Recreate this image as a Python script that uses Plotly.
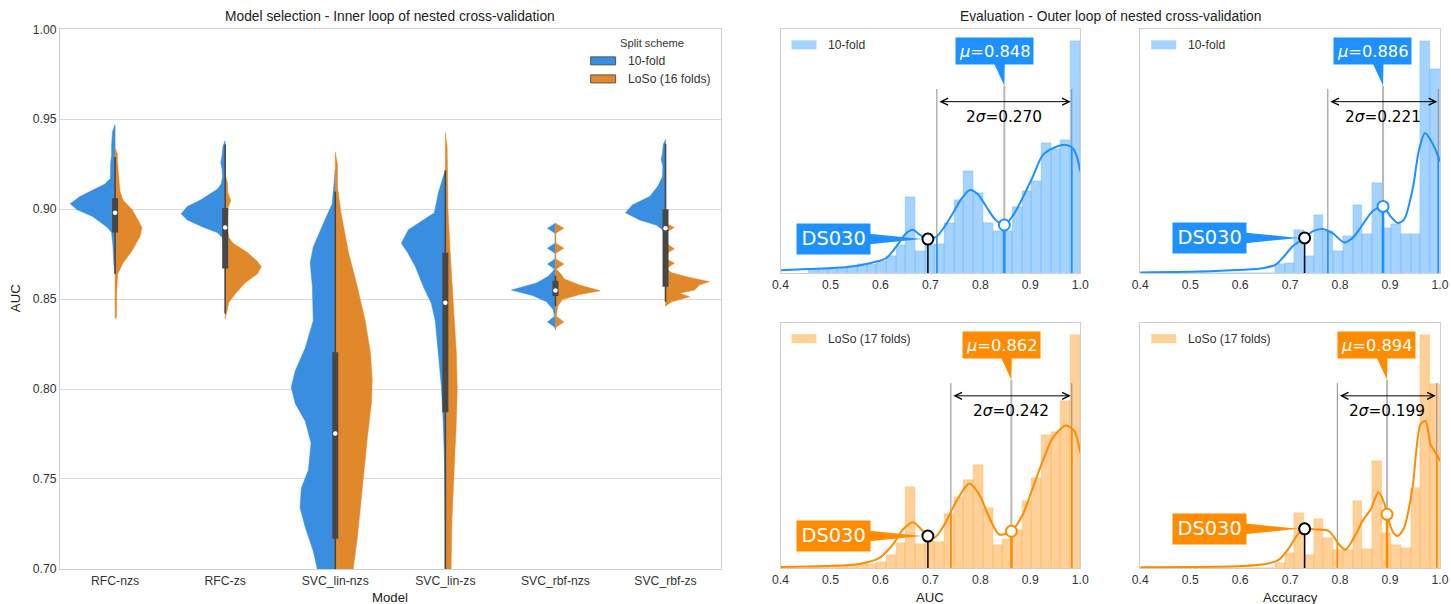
import numpy as np
import plotly.graph_objects as go

# The snapshot shows the page (8px default body margin around the figure) resized
# from 1467x620 down to 1451x604. Positions below are written in snapshot pixels and
# converted to figure coordinates with these factors.
SNAP_W, SNAP_H = 1451, 604
BODY_MARGIN = 8
SX, SY = SNAP_W / (SNAP_W + 2 * BODY_MARGIN), SNAP_H / (SNAP_H + 2 * BODY_MARGIN)
FIG_W, FIG_H = SNAP_W + BODY_MARGIN, SNAP_H + BODY_MARGIN
K = 1 / ((SX + SY) / 2)          # pixel-size compensation for fonts/offsets

# ------------------------------------------------------------------
# Inner loop (model selection): split violins of AUC for each model
# ------------------------------------------------------------------
MODELS = ["RFC-nzs", "RFC-zs", "SVC_lin-nzs", "SVC_lin-zs", "SVC_rbf-nzs", "SVC_rbf-zs"]

# density profiles (AUC level, relative density) - 10-fold split
rfc_nzs_10_auc = [0.947, 0.943, 0.935, 0.930, 0.926, 0.921, 0.917, 0.914, 0.911, 0.907, 0.903, 0.8996, 0.896, 0.890, 0.887, 0.880, 0.870, 0.864]
rfc_nzs_10_den = [0, .06, .08, .08, .10, .10, .11, .23, .48, .80, 1.02, .86, .52, .18, .08, .05, .03, 0]
rfc_zs_10_auc = [0.938, 0.935, 0.930, 0.926, 0.922, 0.918, 0.914, 0.911, 0.905, 0.9015, 0.8974, 0.894, 0.890, 0.887, 0.884, 0.876, 0.870]
rfc_zs_10_den = [0, .05, .07, .10, .07, .06, .09, .18, .57, .86, 1.0, .86, .50, .18, .06, .03, 0]
lin_nzs_10_auc = [0.922, 0.912, 0.903, 0.892, 0.879, 0.870, 0.857, 0.838, 0.823, 0.810, 0.801, 0.792, 0.782, 0.770, 0.755, 0.745, 0.734, 0.723, 0.710, 0.700, 0.690, 0.680, 0.665]
lin_nzs_10_den = [0, .03, .07, .27, .50, .57, .52, .50, .68, .91, 1.0, .91, .68, .55, .61, .77, .80, .68, .50, .41, .32, .23, 0]
lin_zs_10_auc = [0.922, 0.916, 0.909, 0.898, 0.894, 0.8885, 0.881, 0.876, 0.868, 0.857, 0.8477, 0.838, 0.820, 0.801, 0.782, 0.760, 0.727]
lin_zs_10_den = [0, .07, .16, .25, .50, .84, 1.0, .86, .68, .50, .32, .23, .16, .09, .05, .02, 0]
rbf_nzs_10_auc = [0.8922, 0.8894, 0.8866, 0.8811, 0.8783, 0.8755, 0.8723, 0.8695, 0.8667, 0.8645, 0.8624, 0.859, 0.855, 0.852, 0.8485, 0.844, 0.8405, 0.8373, 0.8345, 0.833]
rbf_nzs_10_den = [0, .18, .01, .01, .18, .01, .01, .18, .02, .09, .18, .43, 1.0, .52, .20, .05, .02, .18, .02, 0]
rbf_zs_10_auc = [0.9387, 0.936, 0.931, 0.9275, 0.924, 0.918, 0.9126, 0.907, 0.9024, 0.898, 0.894, 0.891, 0.8885, 0.886]
rbf_zs_10_den = [0, .05, .07, .10, .06, .07, .18, .36, .75, .91, .59, .20, .07, 0]

# density profiles - leave-one-site-out split
rfc_nzs_lo_auc = [0.934, 0.931, 0.925, 0.917, 0.910, 0.905, 0.8996, 0.894, 0.8896, 0.885, 0.877, 0.870, 0.864, 0.855, 0.845, 0.840, 0.839]
rfc_nzs_lo_den = [0, .05, .06, .08, .11, .18, .39, .52, .61, .57, .39, .18, .06, .04, .03, .03, 0]
rfc_zs_lo_auc = [0.919, 0.915, 0.909, 0.905, 0.901, 0.895, 0.888, 0.884, 0.881, 0.876, 0.871, 0.868, 0.864, 0.859, 0.853, 0.848, 0.842, 0.839]
rfc_zs_lo_den = [0, .05, .06, .13, .07, .05, .05, .09, .18, .50, .73, .82, .73, .45, .23, .08, .03, 0]
lin_nzs_lo_auc = [0.9316, 0.925, 0.9125, 0.898, 0.876, 0.857, 0.838, 0.820, 0.805, 0.792, 0.773, 0.755, 0.736, 0.717, 0.7005, 0.685, 0.665]
lin_nzs_lo_den = [0, .05, .05, .13, .30, .50, .68, .80, .84, .82, .73, .66, .57, .50, .41, .32, 0]
lin_zs_lo_auc = [0.9426, 0.935, 0.920, 0.900, 0.876, 0.848, 0.820, 0.800, 0.782, 0.755, 0.727, 0.7005, 0.685, 0.665]
lin_zs_lo_den = [0, .04, .05, .06, .11, .18, .25, .27, .25, .20, .15, .13, .11, 0]
rbf_nzs_lo_auc = [0.8922, 0.8894, 0.8866, 0.8811, 0.8783, 0.8755, 0.8723, 0.8695, 0.8667, 0.8635, 0.8612, 0.8578, 0.8546, 0.8525, 0.8497, 0.846, 0.8405, 0.8373, 0.8345, 0.833]
rbf_nzs_lo_den = [0, .19, .01, .01, .19, .01, .01, .19, .02, .14, .20, .55, 1.02, .55, .16, .05, .02, .19, .02, 0]
rbf_zs_lo_auc = [0.8922, 0.8898, 0.8870, 0.8810, 0.878, 0.875, 0.8725, 0.8699, 0.8670, 0.8647, 0.862, 0.8597, 0.8578, 0.855, 0.8532, 0.8513, 0.8485, 0.846]
rbf_zs_lo_den = [0, .20, .01, .01, .20, .01, .01, .20, .02, .14, .55, 1.0, .77, .66, .32, .55, .14, 0]

# inner box (both splits pooled)
whisk_lo = [0.864, 0.842, 0.600, 0.600, 0.846, 0.8485]
box_q1 = [0.887, 0.867, 0.7167, 0.7871, 0.8517, 0.8568]
box_med = [0.898, 0.8898, 0.7752, 0.8479, 0.8548, 0.8894]
box_q3 = [0.906, 0.9007, 0.8204, 0.8758, 0.8602, 0.900]
whisk_hi = [0.929, 0.936, 0.9098, 0.9215, 0.863, 0.9364]

# ------------------------------------------------------------------
# Outer loop (evaluation): histograms (density) + KDE
# ------------------------------------------------------------------
BIN_CENTERS = [0.4665, 0.4859, 0.5053, 0.5247, 0.5441, 0.5635, 0.5829, 0.6023, 0.6217, 0.6411,
               0.6605, 0.6799, 0.6993, 0.7187, 0.7381, 0.7575, 0.7769, 0.7963, 0.8157, 0.8351,
               0.8545, 0.8739, 0.8933, 0.9127, 0.9321, 0.9515, 0.9709, 0.9903]

auc_10_hist = [0.13, 0.13, 0.13, 0.17, 0.24, 0.28, 0.28, 0.39, 0.56, 0.91, 2.52, 0.72, 0.94, 0.97,
               1.67, 2.41, 3.38, 2.67, 1.67, 1.39, 1.39, 2.19, 2.72, 3.06, 4.31, 4.13, 4.41, 7.74]
acc_10_hist = [0, 0, 0, 0, 0, 0, 0, 0, 0, 0, 0, 0.28, 0.33, 1.41,
               0.56, 1.91, 1.39, 0.72, 1.24, 2.26, 1.28, 2.98, 1.48, 1.61, 1.28, 1.28, 7.74, 6.81]
auc_lo_hist = [0.06, 0.06, 0.06, 0.06, 0.09, 0.11, 0.13, 0.20, 0.44, 0.83, 2.69, 0.78, 0.89, 0.87,
               1.78, 2.36, 2.91, 3.42, 2.00, 0.76, 0.97, 1.26, 2.22, 3.00, 4.42, 4.52, 5.56, 7.76]
acc_lo_hist = [0, 0, 0, 0, 0, 0, 0, 0, 0, 0, 0, 0.17, 0.50, 1.83,
               0.44, 1.63, 1.00, 0.58, 0.58, 2.22, 0.63, 3.56, 1.17, 0.76, 0.67, 2.67, 7.76, 6.11]

auc_10_kde_x = [0.400, 0.455, 0.534, 0.572, 0.612, 0.632, 0.652, 0.665, 0.679, 0.695, 0.712, 0.728, 0.745, 0.762,
                0.779, 0.795, 0.812, 0.830, 0.848, 0.864, 0.879, 0.905, 0.925, 0.952, 0.972, 0.985, 0.993, 1.0]
auc_10_kde_y = [0.09, 0.13, 0.20, 0.30, 0.50, 0.89, 1.33, 1.44, 1.27, 1.13, 1.21, 1.54, 1.99, 2.47,
                2.77, 2.63, 2.21, 1.78, 1.60, 1.89, 2.32, 3.21, 3.93, 4.21, 4.27, 4.16, 3.89, 3.39]
acc_10_kde_x = [0.400, 0.538, 0.605, 0.645, 0.671, 0.688, 0.705, 0.729, 0.745, 0.765, 0.785, 0.808, 0.825,
                0.845, 0.865, 0.886, 0.901, 0.915, 0.928, 0.945, 0.958, 0.970, 0.981, 0.991, 1.0]
acc_10_kde_y = [0.02, 0.06, 0.11, 0.16, 0.28, 0.56, 0.89, 1.17, 1.39, 1.47, 1.33, 1.02, 1.17,
                1.61, 2.06, 2.22, 1.89, 1.67, 1.78, 2.78, 4.11, 4.67, 4.44, 4.11, 3.72]
auc_lo_kde_x = [0.400, 0.492, 0.5585, 0.598, 0.625, 0.645, 0.665, 0.682, 0.695, 0.708, 0.728, 0.752,
                0.778, 0.798, 0.818, 0.838, 0.862, 0.885, 0.905, 0.925, 0.945, 0.971, 0.988, 1.0]
auc_lo_kde_y = [0.03, 0.06, 0.13, 0.33, 0.78, 1.28, 1.52, 1.28, 1.06, 1.00, 1.44, 2.22,
                2.81, 2.44, 1.67, 1.11, 1.22, 1.78, 2.67, 3.56, 4.33, 4.74, 4.56, 3.83]
acc_lo_kde_x = [0.400, 0.605, 0.651, 0.678, 0.698, 0.715, 0.729, 0.751, 0.778, 0.798, 0.811, 0.831, 0.845,
                0.861, 0.877, 0.888, 0.895, 0.905, 0.915, 0.928, 0.945, 0.961, 0.971, 0.981, 0.991, 1.0]
acc_lo_kde_y = [0.02, 0.06, 0.13, 0.28, 0.67, 1.11, 1.30, 1.28, 1.22, 0.78, 0.61, 1.11, 1.56,
                1.94, 2.53, 2.17, 1.72, 1.22, 1.06, 1.33, 2.67, 4.78, 4.89, 4.11, 3.83, 3.56]

# summary statistics per panel: mean, two standard deviations, DS030 score
MEANS = [0.848, 0.886, 0.862, 0.894]
TWO_SIGMAS = [0.270, 0.221, 0.242, 0.199]
DS030_SCORES = [0.695, 0.729, 0.695, 0.729]

# ------------------------------------------------------------------
# styling
# ------------------------------------------------------------------
V_BLUE, V_ORANGE = "#3a8ee0", "#e0882a"
BOX_GRAY = "#474747"
BLUE, ORANGE = "#1e90ff", "#ff8c00"
BLUE_FILL, ORANGE_FILL = "rgba(30,144,255,0.4)", "rgba(255,140,0,0.4)"
BLUE_EDGE, ORANGE_EDGE = "rgba(30,144,255,0.22)", "rgba(255,140,0,0.22)"
SANS = "Liberation Sans, Arial, sans-serif"
DEJAVU = "DejaVu Sans, sans-serif"
VIOLIN_HALF = 0.4
BIN_W = 0.0194
SPINE = "#cfcfcf"


def pxx(px):
    return (px / SX - BODY_MARGIN) / FIG_W


def pxy(py):
    return 1 - (py / SY - BODY_MARGIN) / FIG_H


def fs(size):
    return round(size * K, 1)


fig = go.Figure()

# ---------------- split violins ----------------
violins = [
    (rfc_nzs_10_auc, rfc_nzs_10_den, rfc_nzs_lo_auc, rfc_nzs_lo_den),
    (rfc_zs_10_auc, rfc_zs_10_den, rfc_zs_lo_auc, rfc_zs_lo_den),
    (lin_nzs_10_auc, lin_nzs_10_den, lin_nzs_lo_auc, lin_nzs_lo_den),
    (lin_zs_10_auc, lin_zs_10_den, lin_zs_lo_auc, lin_zs_lo_den),
    (rbf_nzs_10_auc, rbf_nzs_10_den, rbf_nzs_lo_auc, rbf_nzs_lo_den),
    (rbf_zs_10_auc, rbf_zs_10_den, rbf_zs_lo_auc, rbf_zs_lo_den),
]
for i, (a10, d10, alo, dlo) in enumerate(violins):
    for auc, den, sign, col in ((a10, d10, -1, V_BLUE), (alo, dlo, 1, V_ORANGE)):
        xs = [i + sign * VIOLIN_HALF * d for d in den] + [i, i]
        ys = list(auc) + [auc[-1], auc[0]]
        fig.add_scatter(x=xs, y=ys, mode="lines", fill="toself", fillcolor=col,
                        line=dict(color=col, width=0.5), hoverinfo="skip", xaxis="x", yaxis="y")

xs_idx = list(range(len(MODELS)))
for i in xs_idx:
    fig.add_scatter(x=[i, i], y=[whisk_lo[i], whisk_hi[i]], mode="lines",
                    line=dict(color=BOX_GRAY, width=1.6), xaxis="x", yaxis="y", hoverinfo="skip")
    fig.add_scatter(x=[i, i], y=[box_q1[i], box_q3[i]], mode="lines",
                    line=dict(color=BOX_GRAY, width=6), xaxis="x", yaxis="y", hoverinfo="skip")
fig.add_scatter(x=xs_idx, y=box_med, mode="markers",
                marker=dict(color="white", size=4.5, line=dict(width=0)), xaxis="x", yaxis="y")

# ---------------- outer-loop histograms ----------------
panels = [
    dict(n="2", hist=auc_10_hist, kx=auc_10_kde_x, ky=auc_10_kde_y, color=BLUE, fill=BLUE_FILL, edge=BLUE_EDGE, label="10-fold"),
    dict(n="3", hist=acc_10_hist, kx=acc_10_kde_x, ky=acc_10_kde_y, color=BLUE, fill=BLUE_FILL, edge=BLUE_EDGE, label="10-fold"),
    dict(n="4", hist=auc_lo_hist, kx=auc_lo_kde_x, ky=auc_lo_kde_y, color=ORANGE, fill=ORANGE_FILL, edge=ORANGE_EDGE, label="LoSo (17 folds)"),
    dict(n="5", hist=acc_lo_hist, kx=acc_lo_kde_x, ky=acc_lo_kde_y, color=ORANGE, fill=ORANGE_FILL, edge=ORANGE_EDGE, label="LoSo (17 folds)"),
]
# panel boxes in snapshot pixels: left, right, top, bottom
PANEL_PX = {"2": (781, 1081, 30, 273), "3": (1141, 1441, 30, 273),
            "4": (781, 1081, 323, 567), "5": (1141, 1441, 323, 567)}

annotations, shapes, layout_axes = [], [], {}
GUIDE_TOP, MU_TIP, ARROW_Y, SIGMA_TXT_Y = 0.755, 0.768, 0.703, 0.642

for k, p in enumerate(panels):
    n = p["n"]
    xa, ya = "x" + n, "y" + n
    mu, two_s, ds = MEANS[k], TWO_SIGMAS[k], DS030_SCORES[k]
    s = two_s / 2
    col = p["color"]
    ymax = max(p["hist"]) * 1.05

    def kde_at(v, p=p):
        return float(np.interp(v, p["kx"], p["ky"]))

    fig.add_bar(x=BIN_CENTERS, y=p["hist"], width=BIN_W,
                marker=dict(color=p["fill"], line=dict(width=0.8, color=p["edge"])),
                xaxis=xa, yaxis=ya, hoverinfo="skip")
    # guide lines at mean +/- sigma and at the mean
    fig.add_scatter(x=[mu - s, mu - s, None, mu + s, mu + s],
                    y=[0, GUIDE_TOP * ymax, None, 0, GUIDE_TOP * ymax], mode="lines",
                    line=dict(color="#8a8a8a", width=1), xaxis=xa, yaxis=ya, hoverinfo="skip")
    fig.add_scatter(x=[mu, mu], y=[0, MU_TIP * ymax], mode="lines",
                    line=dict(color="#b8b8b8", width=2), xaxis=xa, yaxis=ya, hoverinfo="skip")
    # drop lines under the density curve
    fig.add_scatter(x=[mu - s, mu - s, None, mu + s, mu + s],
                    y=[0, kde_at(mu - s), None, 0, kde_at(mu + s)], mode="lines",
                    line=dict(color=col, width=1.5), xaxis=xa, yaxis=ya, hoverinfo="skip")
    fig.add_scatter(x=[mu, mu], y=[0, kde_at(mu)], mode="lines",
                    line=dict(color=col, width=2.5), xaxis=xa, yaxis=ya, hoverinfo="skip")
    # density estimate
    fig.add_scatter(x=p["kx"], y=p["ky"], mode="lines",
                    line=dict(color=col, width=2, shape="spline", smoothing=0.8),
                    xaxis=xa, yaxis=ya, hoverinfo="skip")
    # DS030 marker line
    fig.add_scatter(x=[ds, ds], y=[0, kde_at(ds)], mode="lines",
                    line=dict(color="black", width=1.5), xaxis=xa, yaxis=ya, hoverinfo="skip")
    fig.add_scatter(x=[mu], y=[kde_at(mu)], mode="markers",
                    marker=dict(size=11, color="white", line=dict(color=col, width=2)),
                    xaxis=xa, yaxis=ya, hoverinfo="skip")
    fig.add_scatter(x=[ds], y=[kde_at(ds)], mode="markers",
                    marker=dict(size=11, color="white", line=dict(color="black", width=2)),
                    xaxis=xa, yaxis=ya, hoverinfo="skip")

    # 2 sigma arrow + label
    annotations.append(dict(x=mu + s, y=ARROW_Y, xref=xa, yref=ya + " domain",
                            ax=mu - s, ay=ARROW_Y, axref=xa, ayref=ya + " domain",
                            text="", showarrow=True, arrowhead=5, startarrowhead=5,
                            arrowside="end+start", arrowsize=1.4, startarrowsize=1.4,
                            arrowwidth=1, arrowcolor="black", standoff=1, startstandoff=1))
    annotations.append(dict(x=mu, y=SIGMA_TXT_Y, xref=xa, yref=ya + " domain",
                            text="2<i>σ</i>=%.3f" % two_s, showarrow=False,
                            font=dict(family=DEJAVU, size=fs(15), color="black")))
    # mean callout
    annotations.append(dict(x=mu, y=MU_TIP, xref=xa, yref=ya + " domain",
                            text="<i>μ</i>=%.3f" % mu, showarrow=True, arrowcolor="rgba(0,0,0,0)",
                            ax=-10 * K, ay=-34 * K, bgcolor=col, width=74 * K, height=24 * K, borderpad=1,
                            font=dict(family=DEJAVU, size=fs(16), color="white")))
    shapes.append(dict(type="path", xref=xa, yref=ya + " domain", xsizemode="pixel", ysizemode="pixel",
                       xanchor=mu, yanchor=MU_TIP, path="M0,0 L0.5,24 L-11,24 Z",
                       fillcolor=col, line=dict(width=0)))
    # DS030 callout
    annotations.append(dict(x=ds, y=kde_at(ds), xref=xa, yref=ya,
                            text="DS030", showarrow=True, arrowcolor="rgba(0,0,0,0)",
                            ax=-93 * K, ay=0, bgcolor=col, width=70 * K, height=27 * K, borderpad=1,
                            font=dict(family=DEJAVU, size=fs(19), color="white")))
    shapes.append(dict(type="path", xref=xa, yref=ya, xsizemode="pixel", ysizemode="pixel",
                       xanchor=ds, yanchor=kde_at(ds), path="M-6,0 L-61,5.5 L-61,-5.5 Z",
                       fillcolor=col, line=dict(width=0)))

    # legend patch + label
    left, right, top, bottom = PANEL_PX[n]
    shapes.append(dict(type="rect", xref="paper", yref="paper",
                       x0=pxx(left + 11), x1=pxx(left + 36), y0=pxy(top + 20), y1=pxy(top + 11),
                       fillcolor=p["fill"], line=dict(width=0)))
    annotations.append(dict(x=pxx(left + 46), y=pxy(top + 15.5), xref="paper", yref="paper",
                            xanchor="left", yanchor="middle", text=p["label"], showarrow=False,
                            font=dict(family=SANS, size=fs(12), color="#333333")))

    layout_axes["xaxis" + n] = dict(domain=[pxx(left), pxx(right)], anchor=ya, range=[0.4, 1.0],
                                    tickvals=[0.4, 0.5, 0.6, 0.7, 0.8, 0.9, 1.0], tickformat=".1f",
                                    showgrid=False, zeroline=False, showline=True, mirror=True,
                                    linecolor=SPINE, linewidth=1.2, ticks="",
                                    tickfont=dict(family=SANS, size=fs(12), color="#333333"))
    layout_axes["yaxis" + n] = dict(domain=[pxy(bottom), pxy(top)], anchor=xa, range=[0, ymax],
                                    showticklabels=False, showgrid=False, zeroline=False,
                                    showline=True, mirror=True, linecolor=SPINE, linewidth=1.2, ticks="")

# ---------------- violin panel legend ----------------
annotations.append(dict(x=pxx(652), y=pxy(44), xref="paper", yref="paper", text="Split scheme",
                        xanchor="center", yanchor="middle",
                        showarrow=False, font=dict(family=SANS, size=fs(11), color="#333333")))
for label, col, yc in (("10-fold", V_BLUE, 61.5), ("LoSo (16 folds)", V_ORANGE, 79.5)):
    shapes.append(dict(type="rect", xref="paper", yref="paper", x0=pxx(591), x1=pxx(616),
                       y0=pxy(yc + 4), y1=pxy(yc - 4), fillcolor=col, line=dict(color="#555555", width=1)))
    annotations.append(dict(x=pxx(626), y=pxy(yc), xref="paper", yref="paper", xanchor="left",
                            yanchor="middle", text=label, showarrow=False,
                            font=dict(family=SANS, size=fs(12), color="#333333")))

# ---------------- titles ----------------
for text, x, y, size, angle in (
    ("Model selection - Inner loop of nested cross-validation", 390, 17, 13.5, 0),
    ("Evaluation - Outer loop of nested cross-validation", 1111, 17, 13.5, 0),
    ("AUC", 15, 298, 13, -90),
    ("Model", 390, 597, 13, 0),
    ("AUC", 931, 597, 13, 0),
    ("Accuracy", 1291, 597, 13, 0),
):
    annotations.append(dict(x=pxx(x), y=pxy(y), xref="paper", yref="paper", text=text, showarrow=False,
                            textangle=angle, xanchor="center", yanchor="middle",
                            font=dict(family=SANS, size=fs(size), color="#222222")))

fig.update_layout(
    width=FIG_W, height=FIG_H, margin=dict(l=0, r=0, t=0, b=0),
    paper_bgcolor="white", plot_bgcolor="white", showlegend=False, bargap=0,
    xaxis=dict(domain=[pxx(60), pxx(721)], anchor="y", range=[-0.5, 5.5],
               tickvals=xs_idx, ticktext=MODELS, showgrid=False, zeroline=False,
               showline=True, mirror=True, linecolor=SPINE, linewidth=1.2, ticks="",
               tickfont=dict(family=SANS, size=fs(12), color="#333333")),
    yaxis=dict(domain=[pxy(568), pxy(30)], anchor="x", range=[0.70, 1.00], dtick=0.05, tick0=0.70,
               tickformat=".2f", showgrid=True, gridcolor="#d9d9d9", gridwidth=1, zeroline=False,
               showline=True, mirror=True, linecolor=SPINE, linewidth=1.2, ticks="",
               tickfont=dict(family=SANS, size=fs(12), color="#333333")),
    annotations=annotations, shapes=shapes, **layout_axes,
)

fig.write_html("out.html")
